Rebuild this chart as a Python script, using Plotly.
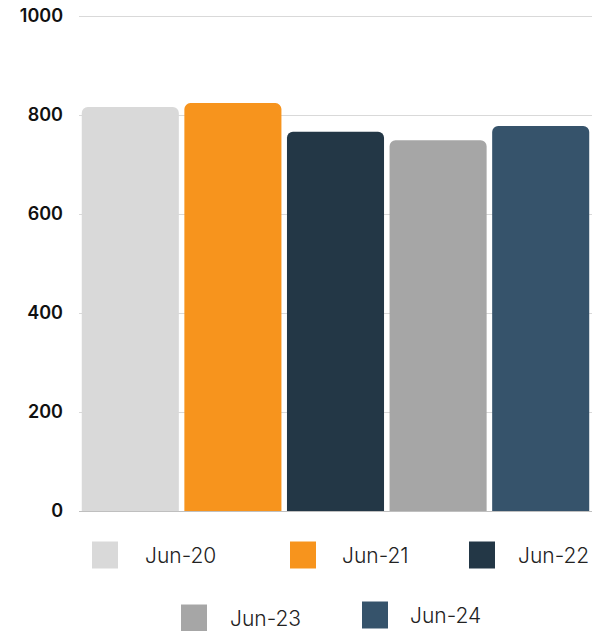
import plotly.graph_objects as go

# Data
periods = ["Jun-20", "Jun-21", "Jun-22", "Jun-23", "Jun-24"]
values = [816, 824, 766, 749, 778]
colors = ["#D9D9D9", "#F7941D", "#233746", "#A6A6A6", "#36536B"]
y_ticks = [0, 200, 400, 600, 800, 1000]

W, H = 594, 631
M_L, M_R, M_T, M_B = 79, 2, 13, 120
PW, PH = W - M_L - M_R, H - M_T - M_B
# top of the value range leaves a little headroom so the 1000 gridline is drawn
Y_MAX = 1000 * PH / 495


def px_x(x):
    return (x - M_L) / PW


def px_y(y):
    return (H - M_B - y) / PH


fig = go.Figure()
for name, val, col in zip(periods, values, colors):
    fig.add_trace(go.Bar(
        x=[name], y=[val], name=name,
        marker=dict(color=col, line=dict(width=0)),
        showlegend=False,
        hovertemplate="%{x}: %{y}<extra></extra>",
    ))

# Legend swatches and labels, laid out in two centred rows
legend_rows = [
    [(0, 92, 143, 555), (1, 290, 340, 555), (2, 469, 516, 555)],
    [(3, 181, 228, 618), (4, 362, 408, 615)],
]
SW = 26
for row in legend_rows:
    for idx, sx, tx, cy in row:
        fig.add_shape(
            type="rect", xref="paper", yref="paper",
            x0=px_x(sx), x1=px_x(sx + SW),
            y0=px_y(cy - SW / 2 - 0.5), y1=px_y(cy + SW / 2 + 0.5),
            fillcolor=colors[idx], line=dict(width=0), layer="above",
        )
        fig.add_annotation(
            x=px_x(tx), y=px_y(cy), xref="paper", yref="paper",
            text=periods[idx], showarrow=False,
            xanchor="left", yanchor="middle",
            font=dict(family="Inter", size=21, color="#222222", weight=300),
        )

fig.update_layout(
    width=W, height=H,
    margin=dict(l=M_L, r=M_R, t=M_T, b=M_B),
    paper_bgcolor="white", plot_bgcolor="white",
    barmode="overlay", bargap=0.054, barcornerradius=6,
    showlegend=False,
    xaxis=dict(
        type="category", categoryorder="array", categoryarray=periods,
        range=[-0.5, 4.5], showticklabels=False, showgrid=False,
        zeroline=False, showline=False, fixedrange=True,
    ),
    yaxis=dict(
        range=[0, Y_MAX], tickvals=y_ticks,
        showgrid=True, gridcolor="#D9D9D9", gridwidth=1,
        zeroline=True, zerolinecolor="#BFBFBF", zerolinewidth=1,
        showline=False, ticks="", ticklabelstandoff=15,
        tickfont=dict(family="Inter", size=18, color="#111111", weight=600),
        fixedrange=True,
    ),
)

fig.write_html("out.html")
